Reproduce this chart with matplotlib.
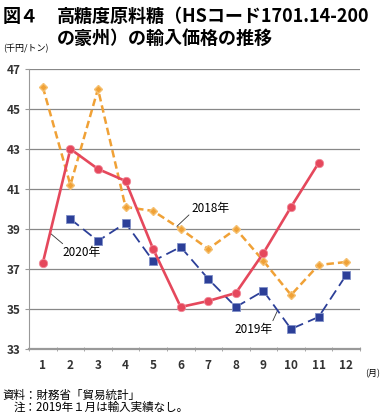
import matplotlib
matplotlib.use("Agg")
import matplotlib.pyplot as plt
import numpy as np

plt.rcParams["font.family"] = ["Noto Sans CJK JP", "DejaVu Sans"]

months = list(range(1, 13))
month_labels = [str(m) for m in months]

y2018 = [46.1, 41.2, 46.0, 40.1, 39.9, 39.0, 38.0, 39.0, 37.4, 35.7, 37.2, 37.35]
m2019 = [2, 3, 4, 5, 6, 7, 8, 9, 10, 11, 12]  # 1月は輸入実績なし
y2019 = [39.5, 38.4, 39.3, 37.4, 38.1, 36.5, 35.1, 35.9, 34.0, 34.6, 36.7]
m2020 = [1, 2, 3, 4, 5, 6, 7, 8, 9, 10, 11]
y2020 = [37.3, 43.0, 42.0, 41.4, 38.0, 35.1, 35.4, 35.8, 37.8, 40.1, 42.3]

yticks = [33, 35, 37, 39, 41, 43, 45, 47]

RED = "#e5485c"
ORANGE = "#f0a136"
BLUE = "#2c3f98"

fig = plt.figure(figsize=(3.91, 4.17), dpi=100)
ax = fig.add_axes([0.0742, 0.1631, 0.8465, 0.6715])

ax.plot(months, y2018, color=ORANGE, linestyle=(0, (3, 1.6)), linewidth=1.8,
        marker="D", markersize=4, markeredgecolor="#f5c070", zorder=3)
ax.plot(m2019, y2019, color=BLUE, linestyle=(0, (6, 3)), linewidth=1.3,
        marker="s", markersize=6, markeredgecolor="#8090c8", markeredgewidth=0.6, zorder=4)
ax.plot(m2020, y2020, color=RED, linewidth=1.9,
        marker="o", markersize=6, markeredgecolor="#f08898", markeredgewidth=0.6, zorder=5)

ax.set_xlim(0.5, 12.5)
ax.set_ylim(33, 47)
ax.set_yticks(yticks)
ax.set_yticklabels([str(v) for v in yticks], fontsize=8.5, fontweight="bold", color="#333333")
ax.set_xticks(months)
ax.set_xticklabels(month_labels, fontsize=8.5, fontweight="bold", color="#333333")
ax.set_xticks(np.arange(0.5, 13, 1), minor=True)
ax.tick_params(axis="x", which="major", length=0, pad=7)
ax.tick_params(axis="x", which="minor", length=3, color="#999999", direction="inout")
ax.tick_params(axis="y", length=3, color="#999999", pad=3)

ax.grid(axis="y", color="#888888", linewidth=0.9)
ax.set_axisbelow(True)
for s in ["top", "right"]:
    ax.spines[s].set_visible(False)
ax.spines["left"].set_color("#999999")
ax.spines["bottom"].set_color("#999999")
ax.spines["bottom"].set_linewidth(1.6)

# series labels with leader lines
lead = dict(arrowstyle="-", color="#333333", lw=0.6, shrinkA=0, shrinkB=0)
ax.annotate("2018年", xy=(5.86, 39.13), xytext=(6.4, 40.03), fontsize=8.5,
            va="center", ha="left", arrowprops=dict(lead, relpos=(0.0, 0.2)))
ax.annotate("2020年", xy=(1.26, 38.8), xytext=(1.7, 37.8), fontsize=8.5,
            va="center", ha="left", arrowprops=dict(lead, relpos=(0.1, 1.0)))
ax.annotate("2019年", xy=(9.52, 34.95), xytext=(7.96, 33.95), fontsize=8.5,
            va="center", ha="left", arrowprops=dict(lead, relpos=(0.95, 0.9)))

fig.text(3 / 391, 1 - 16 / 417, "図４", fontsize=13, fontweight="bold", va="center", ha="left")
fig.text(57 / 391, 1 - 16 / 417, "高糖度原料糖（HSコード1701.14-200", fontsize=13,
         fontweight="bold", va="center", ha="left")
fig.text(57 / 391, 1 - 38 / 417, "の豪州）の輸入価格の推移", fontsize=13,
         fontweight="bold", va="center", ha="left")

fig.text(3 / 391, 1 - 49 / 417, "(千円/トン)", fontsize=6.5, va="center", ha="left")
fig.text(365 / 391, 1 - 374 / 417, "(月)", fontsize=6.5, va="center", ha="left")
fig.text(2 / 391, 1 - 395 / 417, "資料：財務省「貿易統計」", fontsize=8.3, va="center", ha="left")
fig.text(14 / 391, 1 - 407 / 417, "注：2019年１月は輸入実績なし。", fontsize=8.3, va="center", ha="left")

fig.savefig("out.png", dpi=100)
